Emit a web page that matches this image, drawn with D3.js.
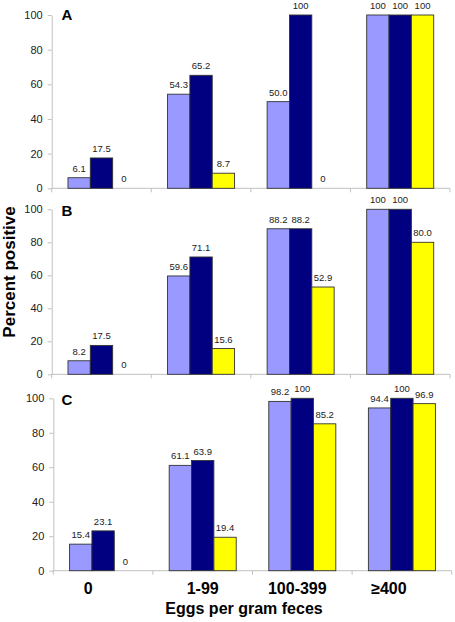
<!DOCTYPE html>
<html>
<head>
<meta charset="utf-8">
<script src="https://cdn.jsdelivr.net/npm/d3@7"></script>
<style>
  html, body { margin: 0; padding: 0; background: #fff; }
  svg { display: block; }
  text { font-family: "Liberation Sans", Arial, Helvetica, sans-serif; }
</style>
</head>
<body>
<svg id="chart" width="455" height="622"></svg>
<script>
// ---- data ----
const categories = ["0", "1-99", "100-399", "\u2265400"];
const seriesNames = ["light", "dark", "yellow"];
const panelNames = ["A", "B", "C"];
const yTicks = [0, 20, 40, 60, 80, 100];

const panelA_light  = [6.1, 54.3, 50.0, 100];
const panelA_dark   = [17.5, 65.2, 100, 100];
const panelA_yellow = [0, 8.7, 0, 100];

const panelB_light  = [8.2, 59.6, 88.2, 100];
const panelB_dark   = [17.5, 71.1, 88.2, 100];
const panelB_yellow = [0, 15.6, 52.9, 80.0];

const panelC_light  = [15.4, 61.1, 98.2, 94.4];
const panelC_dark   = [23.1, 63.9, 100, 100];
const panelC_yellow = [0, 19.4, 85.2, 96.9];

const xTitle = "Eggs per gram feces";
const yTitle = "Percent positive";

// ---- layout / style ----
const colors = { light: "#9999ff", dark: "#000080", yellow: "#ffff00" };
const axisColor = "#c0c0c0";
const panels = [
  { name: "A", data: [panelA_light, panelA_dark, panelA_yellow], x0: 51.7, x1: 450, yBase: 188.3, yTop: 15,    labelY: 20 },
  { name: "B", data: [panelB_light, panelB_dark, panelB_yellow], x0: 51.7, x1: 450, yBase: 374.3, yTop: 209.3, labelY: 216 },
  { name: "C", data: [panelC_light, panelC_dark, panelC_yellow], x0: 53.3, x1: 451.7, yBase: 570.7, yTop: 398.3, labelY: 405 }
];

const svg = d3.select("#chart");
const fmt = v => (v === 0 || v === 100) ? String(v) : v.toFixed(1);

let lastX = null;
panels.forEach(p => {
  const x = d3.scaleBand().domain(categories).range([p.x0, p.x1])
    .paddingInner(0.327).paddingOuter(0.1635);
  const xs = d3.scaleBand().domain(seriesNames).range([0, x.bandwidth()]);
  const y = d3.scaleLinear().domain([0, 100]).range([p.yBase, p.yTop]);
  lastX = x;

  const g = svg.append("g");

  // y axis
  const yAxis = d3.axisLeft(y).tickValues(yTicks).tickSize(4).tickSizeOuter(0).tickPadding(5);
  const ya = g.append("g").attr("transform", `translate(${p.x0},0)`).call(yAxis);
  ya.select(".domain").attr("stroke", axisColor);
  ya.selectAll(".tick line").attr("stroke", axisColor);
  ya.selectAll(".tick text").attr("fill", "#222").style("font-size", "11px")
    .style("font-family", "'Liberation Sans', Arial, sans-serif");

  // x baseline and boundary ticks
  g.append("line").attr("x1", p.x0).attr("x2", p.x1).attr("y1", y(0)).attr("y2", y(0))
    .attr("stroke", axisColor);
  const bounds = d3.range(categories.length + 1).map(i => p.x0 + i * x.step());
  g.selectAll(".xt").data(bounds).enter().append("line")
    .attr("x1", d => d).attr("x2", d => d).attr("y1", y(0)).attr("y2", y(0) + 4)
    .attr("stroke", axisColor);

  // bars
  const flat = [];
  seriesNames.forEach((s, si) => {
    categories.forEach((c, ci) => flat.push({ s, c, v: p.data[si][ci] }));
  });
  g.selectAll(".bar").data(flat.filter(d => d.v > 0)).enter().append("rect")
    .attr("x", d => x(d.c) + xs(d.s))
    .attr("y", d => y(d.v))
    .attr("width", xs.bandwidth())
    .attr("height", d => y(0) - y(d.v))
    .attr("fill", d => colors[d.s])
    .attr("stroke", "#333")
    .attr("stroke-width", 0.9);

  // value labels
  g.selectAll(".val").data(flat).enter().append("text")
    .attr("x", d => x(d.c) + xs(d.s) + xs.bandwidth() / 2)
    .attr("y", d => y(d.v) - 6)
    .attr("text-anchor", "middle")
    .attr("fill", "#222")
    .style("font-size", "9.5px")
    .text(d => fmt(d.v));

  // panel letter
  g.append("text").attr("x", 61.5).attr("y", p.labelY)
    .style("font-size", "15px").style("font-weight", "bold").attr("fill", "#000")
    .text(p.name);
});

// category labels (bottom)
const labelShift = [-15, 0, -5, -13];
svg.selectAll(".cat").data(categories).enter().append("text")
  .attr("x", (d, i) => lastX(d) + lastX.bandwidth() / 2 + labelShift[i])
  .attr("y", 594)
  .attr("text-anchor", "middle")
  .style("font-size", "16px").style("font-weight", "bold").attr("fill", "#000")
  .text(d => d);

// axis titles
svg.append("text").attr("x", 244).attr("y", 614).attr("text-anchor", "middle")
  .style("font-size", "16px").style("font-weight", "bold").attr("fill", "#000")
  .text(xTitle);

svg.append("text").attr("transform", "translate(15,272) rotate(-90)")
  .attr("text-anchor", "middle")
  .style("font-size", "17px").style("font-weight", "bold").attr("fill", "#000")
  .text(yTitle);
</script>
</body>
</html>
